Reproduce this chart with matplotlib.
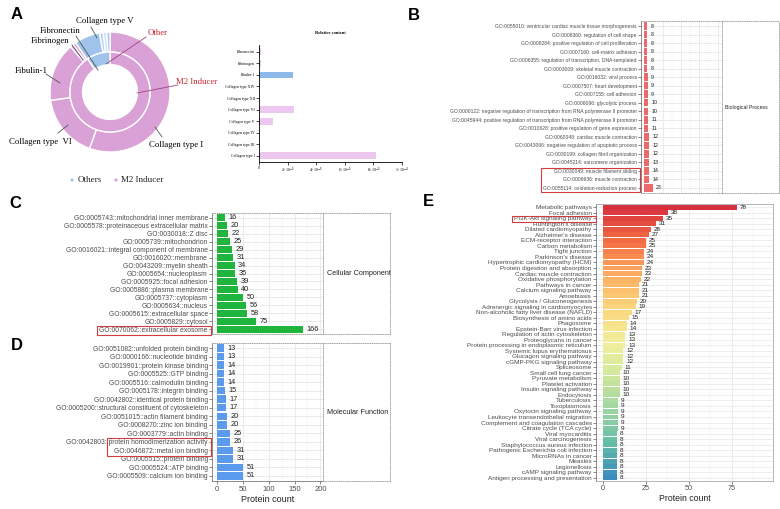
import matplotlib
matplotlib.use("Agg")
import matplotlib.pyplot as plt
import numpy as np
from matplotlib.patches import Rectangle
from matplotlib.colors import LinearSegmentedColormap

W, H = 780, 509
SANS = "Liberation Sans"
SERIF = "Liberation Serif"

# ---------------- data ----------------
# Panel A donut (outer ring clockwise from 12 o'clock, values in degrees of arc)
outer_labels = ["Collagen type I", "Collagen type VI", "Fibulin-1", "Fibrinogen",
                "Fibronectin", "Collagen type V", "", "", ""]
outer_sizes = [200, 62, 57, 3, 3, 25, 3.5, 3.5, 3]
outer_colors = ["#d9a1d6"] * 5 + ["#9fc3ea", "#b8d3f0", "#cfe0f4", "#9fc3ea"]
inner_labels = ["M2 Inducer", "Other"]
inner_sizes = [326, 34]
inner_colors = ["#d9a1d6", "#9fc3ea"]

# Panel A relative content bar chart
rc_labels = ["Fibronectin", "Fibrinogen", "Fibulin-1", "Collagen type XIV",
             "Collagen type XII", "Collagen type VI", "Collagen type V",
             "Collagen type IV", "Collagen type III", "Collagen type I"]
rc_values = [0.12e-5, 0.15e-5, 2.35e-5, 0.08e-5, 0.05e-5, 2.45e-5, 0.95e-5,
             0.05e-5, 0.05e-5, 8.2e-5]
rc_colors = ["#ecc8f0", "#ecc8f0", "#8db8ea", "#ecc8f0", "#ecc8f0", "#ecc8f0",
             "#ecc8f0", "#ecc8f0", "#ecc8f0", "#ecc8f0"]
rc_ticks = [0, 2e-5, 4e-5, 6e-5, 8e-5, 1e-4]
rc_ticklabels = ["0", "2×10$^{-5}$", "4×10$^{-5}$", "6×10$^{-5}$", "8×10$^{-5}$", "1×10$^{-4}$"]

# Panel B biological process
bp_terms = [
    "GO:0055010: ventricular cardiac muscle tissue morphogenesis",
    "GO:0008360: regulation of cell shape",
    "GO:0008284: positive regulation of cell proliferation",
    "GO:0007160: cell-matrix adhesion",
    "GO:0006355: regulation of transcription, DNA-templated",
    "GO:0003009: skeletal muscle contraction",
    "GO:0016032: viral process",
    "GO:0007507: heart development",
    "GO:0007155: cell adhesion",
    "GO:0006096: glycolytic process",
    "GO:0000122: negative regulation of transcription from RNA polymerase II promoter",
    "GO:0045944: positive regulation of transcription from RNA polymerase II promoter",
    "GO:0010628: positive regulation of gene expression",
    "GO:0060048: cardiac muscle contraction",
    "GO:0043066: negative regulation of apoptotic process",
    "GO:0030199: collagen fibril organization",
    "GO:0045214: sarcomere organization",
    "GO:0030049: muscle filament sliding",
    "GO:0006936: muscle contraction",
    "GO:0055114: oxidation-reduction process",
]
bp_counts = [8, 8, 8, 8, 8, 8, 9, 9, 9, 10, 10, 11, 11, 12, 12, 12, 13, 14, 14, 23]

# Panel C cellular component
cc_terms = [
    "GO:0005743::mitochondrial inner membrane",
    "GO:0005578::proteinaceous extracellular matrix",
    "GO:0030018::Z disc",
    "GO:0005739::mitochondrion",
    "GO:0016021::integral component of membrane",
    "GO:0016020::membrane",
    "GO:0043209::myelin sheath",
    "GO:0005654::nucleoplasm",
    "GO:0005925::focal adhesion",
    "GO:0005886::plasma membrane",
    "GO:0005737::cytoplasm",
    "GO:0005634::nucleus",
    "GO:0005615::extracellular space",
    "GO:0005829::cytosol",
    "GO:0070062::extracellular exosome",
]
cc_counts = [16, 20, 22, 25, 29, 31, 34, 35, 39, 40, 50, 56, 58, 75, 166]

# Panel D molecular function
mf_terms = [
    "GO:0051082::unfolded protein binding",
    "GO:0000166::nucleotide binding",
    "GO:0019901::protein kinase binding",
    "GO:0005525::GTP binding",
    "GO:0005516::calmodulin binding",
    "GO:0005178::integrin binding",
    "GO:0042802::identical protein binding",
    "GO:0005200::structural constituent of cytoskeleton",
    "GO:0051015::actin filament binding",
    "GO:0008270::zinc ion binding",
    "GO:0003779::actin binding",
    "GO:0042803::protein homodimerization activity",
    "GO:0046872::metal ion binding",
    "GO:0005515::protein binding",
    "GO:0005524::ATP binding",
    "GO:0005509::calcium ion binding",
]
mf_counts = [13, 13, 14, 14, 14, 15, 17, 17, 20, 20, 25, 26, 31, 31, 51, 51]
go_ticks = [0, 50, 100, 150, 200]

# Panel E KEGG
kegg_terms = [
    "Metabolic pathways", "Focal adhesion", "PI3K-Akt signaling pathway",
    "Huntington's disease", "Dilated cardiomyopathy", "Alzheimer's disease",
    "ECM-receptor interaction", "Carbon metabolism", "Tight junction",
    "Parkinson's disease", "Hypertrophic cardiomyopathy (HCM)",
    "Protein digestion and absorption", "Cardiac muscle contraction",
    "Oxidative phosphorylation", "Pathways in cancer", "Calcium signaling pathway",
    "Amoebiasis", "Glycolysis / Gluconeogenesis",
    "Adrenergic signaling in cardiomyocytes",
    "Non-alcoholic fatty liver disease (NAFLD)", "Biosynthesis of amino acids",
    "Phagosome", "Epstein-Barr virus infection", "Regulation of actin cytoskeleton",
    "Proteoglycans in cancer", "Protein processing in endoplasmic reticulum",
    "Systemic lupus erythematosus", "Glucagon signaling pathway",
    "cGMP-PKG signaling pathway", "Spliceosome", "Small cell lung cancer",
    "Pyruvate metabolism", "Platelet activation", "Insulin signaling pathway",
    "Endocytosis", "Tuberculosis", "Toxoplasmosis", "Oxytocin signaling pathway",
    "Leukocyte transendothelial migration", "Complement and coagulation cascades",
    "Citrate cycle (TCA cycle)", "Viral myocarditis", "Viral carcinogenesis",
    "Staphylococcus aureus infection", "Pathogenic Escherichia coli infection",
    "MicroRNAs in cancer", "Measles", "Legionellosis", "cAMP signaling pathway",
    "Antigen processing and presentation",
]
kegg_counts = [78, 38, 35, 31, 28, 27, 25, 25, 24, 24, 24, 23, 23, 22, 21, 21, 21,
               20, 19, 17, 15, 14, 14, 13, 13, 13, 12, 12, 12, 11, 10, 10, 10, 10,
               10, 9, 9, 9, 9, 9, 9, 8, 8, 8, 8, 8, 8, 8, 8, 8]
kegg_ticks = [0, 25, 50, 75]
kegg_palette = ["#d7303f", "#f46d43", "#fdae61", "#fbd77e", "#f2ee9c", "#cfe89c",
                "#9dd5a2", "#62bda7", "#3a8cbf"]

# ---------------- figure ----------------
fig = plt.figure(figsize=(W / 100, H / 100), dpi=100)


def px_axes(x0, y0, x1, y1, **kw):
    return fig.add_axes([x0 / W, 1 - y1 / H, (x1 - x0) / W, (y1 - y0) / H], **kw)


ov = fig.add_axes([0, 0, 1, 1], zorder=20)
ov.set_xlim(0, W)
ov.set_ylim(H, 0)
ov.axis("off")
ov.patch.set_alpha(0)

# panel letters
for letter, (lx, ly) in {"A": (17, 14), "B": (414, 15), "C": (15, 204),
                         "D": (17, 346), "E": (428, 202)}.items():
    ov.text(lx, ly, letter, fontsize=12, fontweight="bold", family=SANS,
            ha="center", va="center")

# ---------------- Panel A donut ----------------
axd = px_axes(50, 32, 170, 152)
axd.pie(outer_sizes, radius=1.0, startangle=90, counterclock=False,
        colors=outer_colors, wedgeprops=dict(width=0.333, edgecolor="white", linewidth=1.0))
axd.pie(inner_sizes, radius=0.667, startangle=90, counterclock=False,
        colors=inner_colors, wedgeprops=dict(width=0.21, edgecolor="white", linewidth=1.0))
axd.set_xlim(-1, 1)
axd.set_ylim(-1, 1)
axd.set_aspect("equal")
axd.axis("off")

ann = [
    ("Collagen type V", 105, 21, (91, 27), (97, 38), "#555555", "black"),
    ("Fibronectin", 60, 31, (76, 36), (98, 70), "#555555", "black"),
    ("Fibrinogen", 50, 41, (72, 45), (83, 60), "#555555", "black"),
    ("Fibulin-1", 31, 71, (46, 74), (60, 83), "#555555", "black"),
    ("Collagen type  VI", 40, 142, (58, 133), (68, 125), "#555555", "black"),
    ("Collagen type I", 176, 145, (162, 137), (155, 127), "#555555", "black"),
    ("Other", 158, 33, (146, 37), (106, 64), "#a0407f", "#c0282d"),
    ("M2 Inducer", 197, 82, (178, 85), (137, 93), "#a0407f", "#c0282d"),
]
for txt, tx, ty, p0, p1, lc, tc in ann:
    ov.text(tx, ty, txt, fontsize=6.3, family=SERIF, color=tc, ha="center", va="center")
    ov.plot([p0[0], p1[0]], [p0[1], p1[1]], color=lc, lw=0.6)

# legend
ov.scatter([72, 116], [180, 180], s=5, c=["#9fc3ea", "#d9a1d6"], edgecolors="none")
ov.text(78, 180, "Others", fontsize=6.5, family=SERIF, va="center", ha="left", color="#222222")
ov.text(121, 180, "M2 Inducer", fontsize=6.5, family=SERIF, va="center", ha="left", color="#222222")

# ---------------- Panel A relative content bars ----------------
axr = px_axes(259, 45, 402, 162)
yr = np.arange(len(rc_labels))
axr.barh(yr, rc_values, height=0.6, color=rc_colors)
axr.set_ylim(len(rc_labels) - 0.45, -0.6)
axr.set_xlim(0, 1e-4)
axr.set_yticks(yr)
axr.set_yticklabels(rc_labels, fontsize=2.8, family=SERIF)
axr.set_xticks(rc_ticks)
axr.set_xticklabels(rc_ticklabels, fontsize=2.8, family=SERIF)
axr.tick_params(length=2, width=0.5, pad=1)
for s in ["top", "right"]:
    axr.spines[s].set_visible(False)
for s in ["left", "bottom"]:
    axr.spines[s].set_linewidth(0.6)
axr.set_title("Relative content", fontsize=3.2, family=SERIF, fontweight="bold", pad=8)


# ---------------- GO panels ----------------
def go_panel(box, terms, counts, color, xlim, fs_tick, fs_val, strip_box, strip_text,
             fs_strip, show_x=False, fs_x=5.5, fs_xlabel=6.5):
    ax = px_axes(*box)
    n = len(terms)
    y = np.arange(n)
    ax.set_axisbelow(True)
    ax.barh(y, counts, height=0.88, color=color, zorder=2)
    for i, c in enumerate(counts):
        ax.annotate(str(c), (c, i), xytext=(2.5, 0), textcoords="offset points",
                    va="center", ha="left", fontsize=fs_val, family=SANS, color="#222222")
    ax.set_ylim(n - 1 + 0.6, -0.6)
    ax.set_xlim(*xlim)
    ax.set_yticks(y)
    ax.set_yticklabels(terms, fontsize=fs_tick, family=SANS, color="#4d4d4d")
    ax.set_xticks(go_ticks)
    ax.set_xticks([25, 75, 125, 175], minor=True)
    ax.grid(True, which="major", color="#e3e3e3", lw=0.5)
    ax.grid(True, which="minor", axis="x", color="#efefef", lw=0.35)
    ax.tick_params(axis="y", length=2, width=0.5, color="#555555", pad=1)
    ax.tick_params(axis="x", which="minor", length=0)
    if show_x:
        ax.set_xticklabels([str(t) for t in go_ticks], fontsize=fs_x, family=SANS, color="#4d4d4d")
        ax.tick_params(axis="x", length=2, width=0.5, color="#555555", pad=1.5)
        ax.set_xlabel("Protein count", fontsize=fs_xlabel, family=SANS, labelpad=1.5, color="#222222")
    else:
        ax.tick_params(axis="x", length=0, labelbottom=False)
    ax.spines["left"].set_color("#777777")
    ax.spines["left"].set_linewidth(0.6)
    for s in ["top", "right"]:
        ax.spines[s].set_linestyle(":")
        ax.spines[s].set_color("#999999")
        ax.spines[s].set_linewidth(0.6)
    if show_x:
        ax.spines["bottom"].set_color("#777777")
        ax.spines["bottom"].set_linewidth(0.6)
    else:
        ax.spines["bottom"].set_linestyle(":")
        ax.spines["bottom"].set_color("#999999")
        ax.spines["bottom"].set_linewidth(0.6)
    st = px_axes(*strip_box)
    st.set_xticks([])
    st.set_yticks([])
    st.patch.set_alpha(0)
    for s in st.spines.values():
        s.set_linestyle(":")
        s.set_color("#999999")
        s.set_linewidth(0.6)
    st.spines["left"].set_visible(False)
    st.text(0.06, 0.5, strip_text, transform=st.transAxes, fontsize=fs_strip,
            family=SANS, va="center", ha="left", color="#222222")
    return ax


axB = go_panel((641, 21, 722, 193), bp_terms, bp_counts, "#ec6a6c", (-9, 212), 3.6, 3.8,
               (722, 21, 779, 193), "Biological Process", 3.7)
axC = go_panel((212, 213, 323, 334), cc_terms, cc_counts, "#1fb53c", (-9.7, 205), 4.9, 5.3,
               (323, 213, 390, 334), "Cellular Component", 5.2)
axD = go_panel((212, 343, 323, 481), mf_terms, mf_counts, "#5a9bef", (-9.7, 205), 4.9, 5.3,
               (323, 343, 390, 481), "Molecular Function", 5.2, show_x=True)

# ---------------- Panel E ----------------
axE = px_axes(596, 204, 773, 481)
n = len(kegg_terms)
yE = np.arange(n)
cmap = LinearSegmentedColormap.from_list("kegg", kegg_palette)
colsE = [cmap(i / (n - 1)) for i in range(n)]
axE.set_axisbelow(True)
axE.barh(yE, kegg_counts, height=0.9, color=colsE, zorder=2)
for i, c in enumerate(kegg_counts):
    axE.annotate(str(c), (c, i), xytext=(2, 0), textcoords="offset points",
                 va="center", ha="left", fontsize=4.6, family=SANS, color="#222222")
axE.set_ylim(n - 1 + 0.6, -0.6)
axE.set_xlim(-4, 99)
axE.set_yticks(yE)
axE.set_yticklabels(kegg_terms, fontsize=4.6, family=SANS, color="#4d4d4d")
axE.set_xticks(kegg_ticks)
axE.set_xticklabels([str(t) for t in kegg_ticks], fontsize=5.2, family=SANS, color="#4d4d4d")
axE.set_xticks([12.5, 37.5, 62.5, 87.5], minor=True)
axE.grid(True, which="major", color="#e6e6e6", lw=0.5)
axE.grid(True, which="minor", axis="x", color="#f0f0f0", lw=0.35)
axE.tick_params(axis="both", length=2, width=0.5, color="#555555", pad=1)
axE.tick_params(axis="x", which="minor", length=0)
axE.set_xlabel("Protein count", fontsize=6.3, family=SANS, labelpad=1.5, color="#222222")
for s in axE.spines.values():
    s.set_color("#aaaaaa")
    s.set_linewidth(0.6)
axE.spines["left"].set_color("#777777")

# ---------------- red highlight boxes ----------------
fig.canvas.draw()
r = fig.canvas.get_renderer()


def lab_ext(ax, idx):
    return ax.get_yticklabels()[idx].get_window_extent(r)


def red_box(x0, y0_disp, x1, y1_disp):
    ov.add_patch(Rectangle((x0, H - y1_disp), x1 - x0, y1_disp - y0_disp, fill=False,
                           edgecolor="#d23c3c", lw=0.8))


# B: last three
bbs = [lab_ext(axB, i) for i in (17, 18, 19)]
red_box(min(b.x0 for b in bbs) - 2, min(b.y0 for b in bbs) - 1,
        axB.get_window_extent(r).x0 - 1, max(b.y1 for b in bbs) + 1)
# C: exosome
b = lab_ext(axC, 14)
red_box(b.x0 - 2, b.y0 - 1, axC.get_window_extent(r).x0 - 1, b.y1 + 1)
# D: protein homodimerization + metal ion binding
b1, b2 = lab_ext(axD, 11), lab_ext(axD, 12)
tmp = fig.text(0, 0, "protein homodimerization activity", fontsize=4.9, family=SANS)
wtmp = tmp.get_window_extent(r).width
tmp.remove()
red_box(b1.x1 - wtmp - 1.5, b2.y0 - 1, axD.get_window_extent(r).x0 - 1, b1.y1 + 1)
# E: PI3K-Akt
b = lab_ext(axE, 2)
red_box(b.x0 - 2, b.y0 - 0.5, b.x1 + 4, b.y1 + 0.5)

fig.savefig("out.png", dpi=100)
